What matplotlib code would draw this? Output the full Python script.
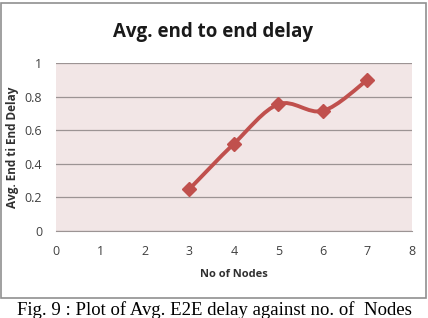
import numpy as np
import matplotlib
matplotlib.use('Agg')
import matplotlib.pyplot as plt
from matplotlib.path import Path
from matplotlib.patches import PathPatch, Rectangle

nodes = [3, 4, 5, 6, 7]
delay = [0.25, 0.52, 0.755, 0.715, 0.90]
xticks = [0, 1, 2, 3, 4, 5, 6, 7, 8]
yticks = [0, 0.2, 0.4, 0.6, 0.8, 1]

line_col = '#C0504D'

fig = plt.figure(figsize=(4.28, 3.18), dpi=100)
ax = fig.add_axes([0.1308, 0.2736, 0.8318, 0.5283])
ax.set_facecolor('#F2E6E6')

# smoothed line like Excel (catmull-rom -> bezier)
pts = np.column_stack([nodes, delay])
verts = [tuple(pts[0])]
codes = [Path.MOVETO]
for i in range(len(pts) - 1):
    p0 = pts[i - 1] if i > 0 else pts[i]
    p1 = pts[i]
    p2 = pts[i + 1]
    p3 = pts[i + 2] if i + 2 < len(pts) else pts[i + 1]
    c1 = p1 + (p2 - p0) / 6.0
    c2 = p2 - (p3 - p1) / 6.0
    verts += [tuple(c1), tuple(c2), tuple(p2)]
    codes += [Path.CURVE4] * 3
ax.add_patch(PathPatch(Path(verts, codes), fill=False, edgecolor=line_col, lw=2.8, zorder=3))
ax.plot(nodes, delay, 'D', color=line_col, markersize=7.5, zorder=4)

ax.set_xlim(0, 8)
ax.set_ylim(0, 1)
ax.set_xticks(xticks)
ax.set_yticks(yticks)
ax.set_yticklabels(['0', '0.2', '0.4', '0.6', '0.8', '1'])
ax.grid(axis='y', color='#9C9494', lw=0.9)
ax.set_axisbelow(True)
for s in ['left', 'right', 'top']:
    ax.spines[s].set_visible(False)
ax.spines['bottom'].set_color('#9C9494')
ax.tick_params(length=0, labelsize=9, colors='#404040', pad=10)
for lab in ax.get_xticklabels() + ax.get_yticklabels():
    lab.set_fontfamily('Open Sans')

ax.set_xlabel('No of Nodes', fontsize=8, fontweight='bold', fontfamily='Open Sans',
              color='#303030', labelpad=8)
ax.set_ylabel('Avg. End ti End Delay', fontsize=8.5, fontweight='bold', fontfamily='Open Sans',
              color='#303030', labelpad=4)
fig.text(0.497, 0.90, 'Avg. end to end delay', ha='center', va='center',
         fontsize=13.5, fontweight='bold', fontfamily='Open Sans', color='#1a1a1a')

fig.patches.append(Rectangle((0.003, 0.062), 0.993, 0.93, transform=fig.transFigure,
                             fill=False, edgecolor='#909090', lw=1.2))
fig.text(0.5, 0.026, 'Fig. 9 : Plot of Avg. E2E delay against no. of  Nodes', ha='center',
         va='center', fontsize=13.5, fontfamily='Liberation Serif')

fig.savefig('out.png', dpi=100)
